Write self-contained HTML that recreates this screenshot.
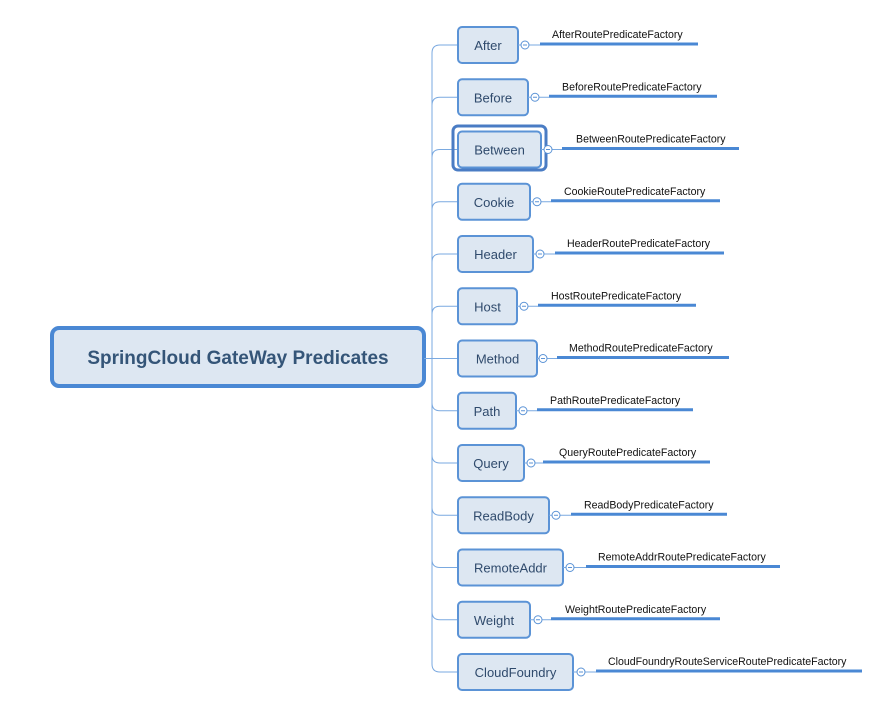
<!DOCTYPE html>
<html><head><style>
html,body{margin:0;padding:0;background:#fff;width:878px;height:703px;overflow:hidden}
svg{display:block}
.n{fill:#dde7f2;stroke:#5b93d6;stroke-width:2}
.t{font-family:"Liberation Sans",sans-serif;font-size:13px;fill:#2f4a6c;text-anchor:middle}
.l{font-family:"Liberation Sans",sans-serif;font-size:10.6px;fill:#111}
.c{fill:#fff;stroke:#5b93d6;stroke-width:1}
.u{stroke:#4a88d4;stroke-width:3}
.k{stroke:#7aa9e0;stroke-width:1;fill:none}
.m{stroke:#5b93d6;stroke-width:1}
</style></head><body>
<svg width="878" height="703" viewBox="0 0 878 703">
<rect x="52" y="328" width="372" height="58" rx="7" fill="#dde7f2" stroke="#4a88d4" stroke-width="4"/>
<text x="238" y="364" font-family="Liberation Sans,sans-serif" font-size="19" font-weight="bold" fill="#345578" text-anchor="middle">SpringCloud GateWay Predicates</text>
<line x1="424" y1="358.5" x2="458" y2="358.5" class="k"/>
<path class="k" d="M458 45 H440 Q432 45 432 53 V664 Q432 672 440 672 H458"/>
<g class="k">
<path d="M432 105.25 Q432 97.25 440 97.25 H458"/>
<path d="M432 157.5 Q432 149.5 440 149.5 H458"/>
<path d="M432 209.75 Q432 201.75 440 201.75 H458"/>
<path d="M432 262 Q432 254 440 254 H458"/>
<path d="M432 314.25 Q432 306.25 440 306.25 H458"/>
<path d="M432 402.75 Q432 410.75 440 410.75 H458"/>
<path d="M432 455 Q432 463 440 463 H458"/>
<path d="M432 507.25 Q432 515.25 440 515.25 H458"/>
<path d="M432 559.5 Q432 567.5 440 567.5 H458"/>
<path d="M432 611.75 Q432 619.75 440 619.75 H458"/>
</g>
<rect x="453" y="126" width="93" height="44" rx="5" fill="none" stroke="#4a7cc4" stroke-width="3"/>

<g>
<rect class="n" x="458" y="27" width="60" height="36" rx="4"/><text class="t" x="488" y="50">After</text>
<line class="k" x1="518" y1="45" x2="540" y2="45"/><circle class="c" cx="525" cy="45" r="4"/><line class="m" x1="523" y1="45" x2="527" y2="45"/>
<line class="u" x1="540" y1="44" x2="698" y2="44"/><text class="l" x="552" y="38">AfterRoutePredicateFactory</text>
</g>
<g>
<rect class="n" x="458" y="79.25" width="70" height="36" rx="4"/><text class="t" x="493" y="102.25">Before</text>
<line class="k" x1="528" y1="97.25" x2="549" y2="97.25"/><circle class="c" cx="535" cy="97.25" r="4"/><line class="m" x1="533" y1="97.25" x2="537" y2="97.25"/>
<line class="u" x1="549" y1="96.25" x2="717" y2="96.25"/><text class="l" x="562" y="90.25">BeforeRoutePredicateFactory</text>
</g>
<g>
<rect class="n" x="458" y="131.5" width="83" height="36" rx="4"/><text class="t" x="499.5" y="154.5">Between</text>
<line class="k" x1="541" y1="149.5" x2="562" y2="149.5"/><circle class="c" cx="548" cy="149.5" r="4"/><line class="m" x1="546" y1="149.5" x2="550" y2="149.5"/>
<line class="u" x1="562" y1="148.5" x2="739" y2="148.5"/><text class="l" x="576" y="142.5">BetweenRoutePredicateFactory</text>
</g>
<g>
<rect class="n" x="458" y="183.75" width="72" height="36" rx="4"/><text class="t" x="494" y="206.75">Cookie</text>
<line class="k" x1="530" y1="201.75" x2="551" y2="201.75"/><circle class="c" cx="537" cy="201.75" r="4"/><line class="m" x1="535" y1="201.75" x2="539" y2="201.75"/>
<line class="u" x1="551" y1="200.75" x2="720" y2="200.75"/><text class="l" x="564" y="194.75">CookieRoutePredicateFactory</text>
</g>
<g>
<rect class="n" x="458" y="236" width="75" height="36" rx="4"/><text class="t" x="495.5" y="259">Header</text>
<line class="k" x1="533" y1="254" x2="555" y2="254"/><circle class="c" cx="540" cy="254" r="4"/><line class="m" x1="538" y1="254" x2="542" y2="254"/>
<line class="u" x1="555" y1="253" x2="724" y2="253"/><text class="l" x="567" y="247">HeaderRoutePredicateFactory</text>
</g>
<g>
<rect class="n" x="458" y="288.25" width="59" height="36" rx="4"/><text class="t" x="487.5" y="311.25">Host</text>
<line class="k" x1="517" y1="306.25" x2="538" y2="306.25"/><circle class="c" cx="524" cy="306.25" r="4"/><line class="m" x1="522" y1="306.25" x2="526" y2="306.25"/>
<line class="u" x1="538" y1="305.25" x2="696" y2="305.25"/><text class="l" x="551" y="299.25">HostRoutePredicateFactory</text>
</g>
<g>
<rect class="n" x="458" y="340.5" width="79" height="36" rx="4"/><text class="t" x="497.5" y="363.5">Method</text>
<line class="k" x1="537" y1="358.5" x2="557" y2="358.5"/><circle class="c" cx="543" cy="358.5" r="4"/><line class="m" x1="541" y1="358.5" x2="545" y2="358.5"/>
<line class="u" x1="557" y1="357.5" x2="729" y2="357.5"/><text class="l" x="569" y="351.5">MethodRoutePredicateFactory</text>
</g>
<g>
<rect class="n" x="458" y="392.75" width="58" height="36" rx="4"/><text class="t" x="487" y="415.75">Path</text>
<line class="k" x1="516" y1="410.75" x2="537" y2="410.75"/><circle class="c" cx="523" cy="410.75" r="4"/><line class="m" x1="521" y1="410.75" x2="525" y2="410.75"/>
<line class="u" x1="537" y1="409.75" x2="693" y2="409.75"/><text class="l" x="550" y="403.75">PathRoutePredicateFactory</text>
</g>
<g>
<rect class="n" x="458" y="445" width="66" height="36" rx="4"/><text class="t" x="491" y="468">Query</text>
<line class="k" x1="524" y1="463" x2="543" y2="463"/><circle class="c" cx="531" cy="463" r="4"/><line class="m" x1="529" y1="463" x2="533" y2="463"/>
<line class="u" x1="543" y1="462" x2="710" y2="462"/><text class="l" x="559" y="456">QueryRoutePredicateFactory</text>
</g>
<g>
<rect class="n" x="458" y="497.25" width="91" height="36" rx="4"/><text class="t" x="503.5" y="520.25">ReadBody</text>
<line class="k" x1="549" y1="515.25" x2="571" y2="515.25"/><circle class="c" cx="556" cy="515.25" r="4"/><line class="m" x1="554" y1="515.25" x2="558" y2="515.25"/>
<line class="u" x1="571" y1="514.25" x2="727" y2="514.25"/><text class="l" x="584" y="508.25">ReadBodyPredicateFactory</text>
</g>
<g>
<rect class="n" x="458" y="549.5" width="105" height="36" rx="4"/><text class="t" x="510.5" y="572.5">RemoteAddr</text>
<line class="k" x1="563" y1="567.5" x2="586" y2="567.5"/><circle class="c" cx="570" cy="567.5" r="4"/><line class="m" x1="568" y1="567.5" x2="572" y2="567.5"/>
<line class="u" x1="586" y1="566.5" x2="780" y2="566.5"/><text class="l" x="598" y="560.5">RemoteAddrRoutePredicateFactory</text>
</g>
<g>
<rect class="n" x="458" y="601.75" width="72" height="36" rx="4"/><text class="t" x="494" y="624.75">Weight</text>
<line class="k" x1="530" y1="619.75" x2="551" y2="619.75"/><circle class="c" cx="538" cy="619.75" r="4"/><line class="m" x1="536" y1="619.75" x2="540" y2="619.75"/>
<line class="u" x1="551" y1="618.75" x2="720" y2="618.75"/><text class="l" x="565" y="612.75">WeightRoutePredicateFactory</text>
</g>
<g>
<rect class="n" x="458" y="654" width="115" height="36" rx="4"/><text class="t" x="515.5" y="677">CloudFoundry</text>
<line class="k" x1="573" y1="672" x2="596" y2="672"/><circle class="c" cx="581" cy="672" r="4"/><line class="m" x1="579" y1="672" x2="583" y2="672"/>
<line class="u" x1="596" y1="671" x2="862" y2="671"/><text class="l" x="608" y="665">CloudFoundryRouteServiceRoutePredicateFactory</text>
</g>
</svg>
</body></html>
